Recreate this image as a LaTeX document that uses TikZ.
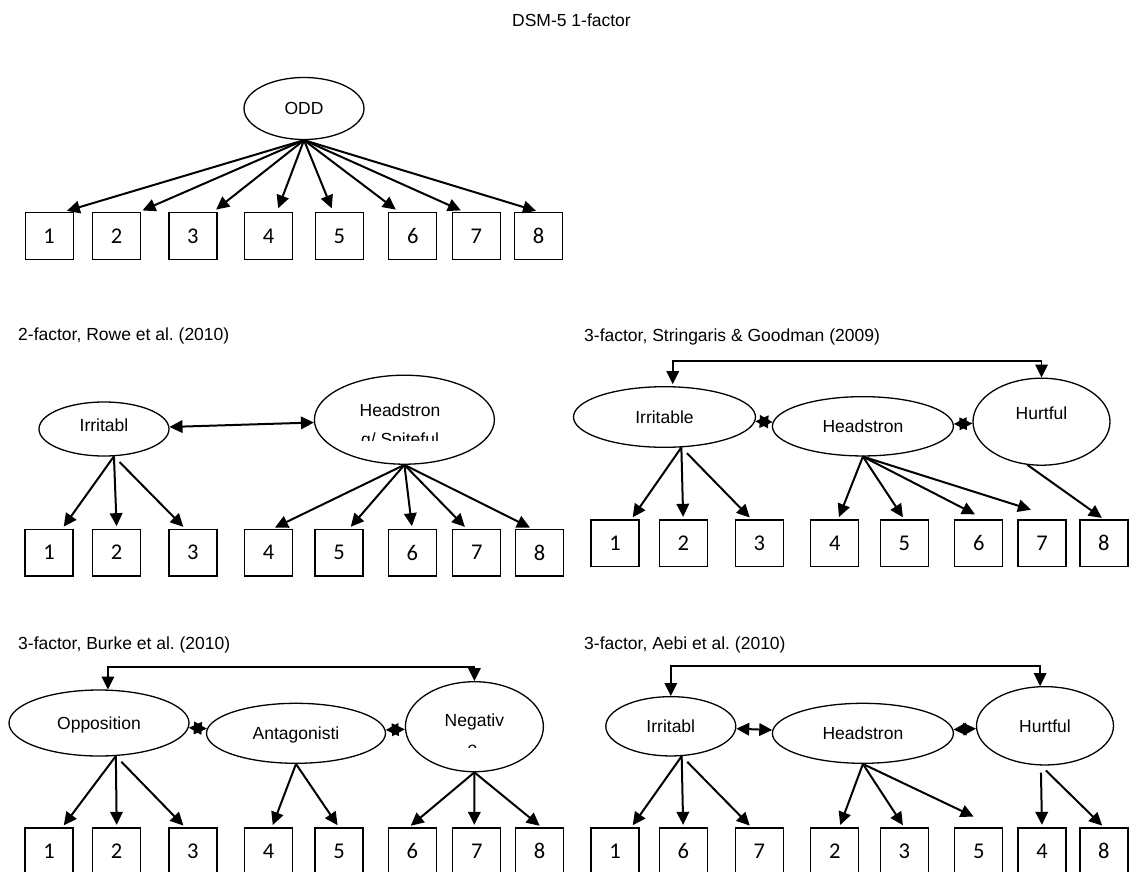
\documentclass[tikz,border=0pt]{standalone}
\usepackage{fontspec}
\setmainfont{Liberation Sans}
\newfontfamily\itemfont{Carlito}
\usetikzlibrary{shapes.geometric,arrows.meta}
\frenchspacing

\tikzset{
	factor/.style={ellipse, draw, line width=1.3pt, inner sep=0pt, text height=12.5pt, text depth=0pt},
	itembox/.style={rectangle, draw, line width=1.3pt, inner sep=0pt, minimum width=48pt, minimum height=46.6pt, font=\itemfont\fontsize{22.5}{27}\selectfont},
	loading/.style={->, line width=2pt, shorten >=2.5pt},
	cov/.style={<->, line width=2pt},
	panelhead/.style={anchor=west, inner sep=0pt}
}

\begin{document}
\begin{tikzpicture}[x=1pt, y=-1pt, >={Triangle[length=13pt,width=12.5pt]}, font=\fontsize{17.5}{21}\selectfont]
			\useasboundingbox (0,0) rectangle (1129,872);
			\node (ttl) at (571.5,20) {DSM-5 1-factor};

			% 1-factor
			\node (odd) [factor, minimum width=120pt, minimum height=62pt] at (304,108.5) {ODD};
			\node (o1) [itembox] at (49.2,236) {1};
			\node (o2) [itembox] at (116.5,236) {2};
			\node (o3) [itembox] at (192.9,236) {3};
			\node (o4) [itembox] at (268.5,236) {4};
			\node (o5) [itembox] at (339.2,236) {5};
			\node (o6) [itembox] at (412.8,236) {6};
			\node (o7) [itembox] at (476.2,236) {7};
			\node (o8) [itembox] at (538.6,236) {8};
			\path[loading, shorten >=4pt] (odd.south) edge (o1.60) edge (o2.47) edge (o3.50) edge (o4.71)
			edge (o5.104) edge (o6.120) edge (o7.116) edge (o8.87);

			% Rowe
			\node (lr) [panelhead] at (18,336) {2-factor, Rowe et al. (2010)};
			\node (rI) [factor, minimum width=130pt, minimum height=54pt, text depth=7pt] at (104,429) {Irritabl};
			\node (rH) [factor, minimum width=180pt, minimum height=89pt] at (404.4,419.7) {};
			\node (rHa) [anchor=base] at (400,416.7) {Headstron};
			\begin{scope}
				\clip (300,395) rectangle (510,440);
				\node (rHb) [anchor=base] at (400,445.8) {g/ Spiteful};
			\end{scope}
			\node (r1) [itembox] at (49,552.6) {1};
			\node (r2) [itembox] at (116.7,552.6) {2};
			\node (r3) [itembox] at (192.9,552.6) {3};
			\node (r4) [itembox] at (268.5,552.6) {4};
			\node (r5) [itembox] at (339,552.6) {5};
			\node (r6) [itembox] at (412.2,552.6) {6};
			\node (r7) [itembox] at (476.8,552.6) {7};
			\node (r8) [itembox] at (539.5,552.6) {8};
			\path[loading] (rI.-70) edge (r1.61) edge (r2.north) edge[shorten <=8pt] (r3.108)
			(rH.south) edge (r4.80) edge (r5.67) edge (r6.north) edge (r7.113) edge (r8.107);
			\path[cov] (rI) edge (rH);

			% Stringaris & Goodman
			\node (ls) [panelhead] at (584,337) {3-factor, Stringaris \& Goodman (2009)};
			\node (sI) [factor, minimum width=182pt, minimum height=60.6pt] at (664.5,417) {Irritable};
			\node (sH) [factor, minimum width=181pt, minimum height=59.3pt] at (862.9,426.3) {Headstron};
			\node (sT) [factor, minimum width=137pt, minimum height=87pt, text depth=17pt] at (1041.5,421.7) {Hurtful};
			\node (s1) [itembox] at (615.1,543.3) {1};
			\node (s2) [itembox] at (683.2,543.3) {2};
			\node (s3) [itembox] at (759.3,543.3) {3};
			\node (s4) [itembox] at (834.7,543.3) {4};
			\node (s5) [itembox] at (904.3,543.3) {5};
			\node (s6) [itembox] at (978.8,543.3) {6};
			\node (s7) [itembox] at (1042,543.3) {7};
			\node (s8) [itembox] at (1103.9,543.3) {8};
			\path[loading] (sI.-61) edge (s1.56) edge (s2.north) edge[shorten <=8pt] (s3.108)
			(sH.south) edge (s4.82) edge (s5.north) edge[shorten >=11pt] (s6.76) edge[shorten >=32pt] (s7.51)
			(sT.-108) edge (s8.north);
			\path[cov] (sI) edge (sH)
			(sH) edge (sT);
			\draw[<->, line width=1.7pt, shorten <=2pt] (sI.75) -- ++(0,-25) -| (sT.north);

			% Burke
			\node (lb) [panelhead] at (18,645) {3-factor, Burke et al. (2010)};
			\node (bO) [factor, minimum width=180pt, minimum height=66pt] at (99,723) {Opposition};
			\node (bA) [factor, minimum width=179pt, minimum height=60pt] at (296,733.3) {Antagonisti};
			\node (bN) [factor, minimum width=138pt, minimum height=90pt] at (474.4,726.7) {};
			\node (bNa) [anchor=base] at (474.4,726) {Negativ};
			\begin{scope}
				\clip (400,740) rectangle (550,747.7);
				\node (bNb) [anchor=base] at (472.6,754) {e};
			\end{scope}
			\node (b1) [itembox] at (49,851.3) {1};
			\node (b2) [itembox] at (116.7,851.3) {2};
			\node (b3) [itembox] at (192.9,851.3) {3};
			\node (b4) [itembox] at (268.5,851.3) {4};
			\node (b5) [itembox] at (339,851.3) {5};
			\node (b6) [itembox] at (412.2,851.3) {6};
			\node (b7) [itembox] at (476.8,851.3) {7};
			\node (b8) [itembox] at (539.5,851.3) {8};
			\path[loading] (bO.-63) edge (b1.61) edge (b2.north) edge[shorten <=8pt] (b3.108)
			(bA.south) edge (b4.82) edge (b5.north)
			(bN.south) edge (b6.98) edge (b7.96) edge (b8.85);
			\path[cov] (bO) edge (bA)
			(bA) edge (bN);
			\draw[<->, line width=1.7pt] (bO.75) -- ++(0,-22.5) -| (bN.north);

			% Aebi
			\node (la) [panelhead] at (584,645) {3-factor, Aebi et al. (2010)};
			\node (aI) [factor, minimum width=130pt, minimum height=59.3pt] at (670.8,726.3) {Irritabl};
			\node (aH) [factor, minimum width=181pt, minimum height=60pt] at (862.9,733.3) {Headstron};
			\node (aT) [factor, minimum width=137pt, minimum height=78.3pt] at (1045,725.8) {Hurtful};
			\node (a1) [itembox] at (615.1,851.3) {1};
			\node (a6) [itembox] at (683.2,851.3) {6};
			\node (a7) [itembox] at (759.3,851.3) {7};
			\node (a2) [itembox] at (834.7,851.3) {2};
			\node (a3) [itembox] at (904.3,851.3) {3};
			\node (a5) [itembox] at (978.8,851.3) {5};
			\node (a4) [itembox] at (1042,851.3) {4};
			\node (a8) [itembox] at (1103.9,851.3) {8};
			\path[loading] (aI.-70) edge (a1.56) edge (a6.north) edge[shorten <=8pt] (a7.108)
			(aH.south) edge (a2.79) edge (a3.north) edge[shorten >=25pt] (a5.54)
			(aT.-96) edge[shorten <=7pt] (a4.north) edge[shorten <=7pt] (a8.north);
			\path[cov] (aI) edge (aH)
			(aH) edge (aT);
			\draw[<->, line width=1.7pt] (aI.north) -- ++(0,-30) -| (aT.97);
		\end{tikzpicture}
\end{document}
